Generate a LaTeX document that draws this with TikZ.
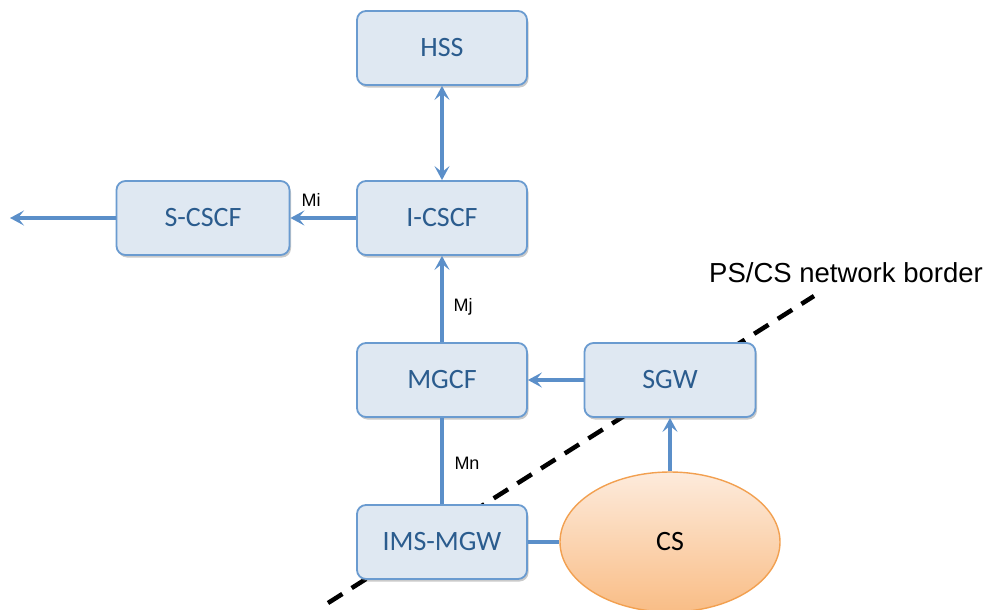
\documentclass[tikz,border=0pt]{standalone}
\usepackage{fontspec}
\setmainfont{Carlito}
\newfontfamily\arialfont{Liberation Sans}
\usetikzlibrary{arrows.meta,shadows,shapes.geometric}
\definecolor{boxfill}{HTML}{DFE8F2}
\definecolor{boxedge}{HTML}{6A9BD0}
\definecolor{boxtext}{HTML}{2B5C8E}
\definecolor{linkcol}{HTML}{5B8FC9}
\definecolor{cstop}{HTML}{FDEBDC}
\definecolor{csbottom}{HTML}{F9BD86}
\definecolor{csedge}{HTML}{F2A050}
\tikzset{
  netbox/.style={draw=boxedge, line width=1.8pt, fill=boxfill, rounded corners=9pt,
    minimum width=170pt, minimum height=74pt, inner sep=0pt,
    text=boxtext, font=\fontsize{28}{32}\selectfont,
    drop shadow={shadow xshift=1.5pt, shadow yshift=-2.5pt, opacity=0.35, fill=black!60}},
  link/.style={draw=linkcol, line width=3.2pt},
  tip/.tip={Stealth[length=14pt, width=15pt, inset=6pt]},
  linkarrow/.style={link, -tip},
  iflabel/.style={font=\arialfont\fontsize{18}{20}\selectfont, text=black, inner sep=0pt},
  border/.style={draw=black, line width=4.5pt, dash pattern=on 17pt off 11pt}
}
\begin{document}
\begin{tikzpicture}[x=1pt, y=-1pt]
  \useasboundingbox (0,0) rectangle (993,610);

  % PS/CS network border, drawn first so the boxes sit on top of it
  \coordinate (bordA) at (328,603);
  \coordinate (bordB) at (814,296);
  \draw[border] (bordA) -- (bordB);
  \node[font=\arialfont\fontsize{27.5}{30}\selectfont, anchor=center] (bordlabel) at (846,273) {PS/CS network border};

  % network elements
  \node[netbox] (hss)   at (442,48)  {HSS};
  \node[netbox] (icscf) at (442,218) {I-CSCF};
  \node[netbox, minimum width=173pt] (scscf) at (203,218) {S-CSCF};
  \node[netbox] (mgcf)  at (442,380) {MGCF};
  \node[netbox, minimum width=171pt] (sgw)   at (670,380) {SGW};
  \node[netbox] (imsmgw) at (442,542) {IMS-MGW};
  \node[ellipse, draw=csedge, line width=1.4pt, top color=cstop, bottom color=csbottom,
        minimum width=220pt, minimum height=140pt, inner sep=0pt,
        font=\fontsize{28}{32}\selectfont] (cs) at (670,542) {CS};

  \coordinate (outleft) at (10,218);

  % interfaces
  \draw[link, tip-tip] (icscf.north) -- (hss.south);
  \draw[linkarrow] (icscf.west) -- (scscf.east);
  \draw[linkarrow] (scscf.west) -- (outleft);
  \draw[linkarrow] (mgcf.north) -- (icscf.south);
  \draw[linkarrow] (sgw.west) -- (mgcf.east);
  \draw[link] (imsmgw.north) -- (mgcf.south);
  \draw[linkarrow] (cs.north) -- (sgw.south);
  \draw[link] (imsmgw.east) -- (cs.west);

  \node[iflabel] (mi) at (311,200) {Mi};
  \node[iflabel] (mj) at (463,307) {Mj};
  \node[iflabel] (mn) at (467,463) {Mn};
\end{tikzpicture}
\end{document}
